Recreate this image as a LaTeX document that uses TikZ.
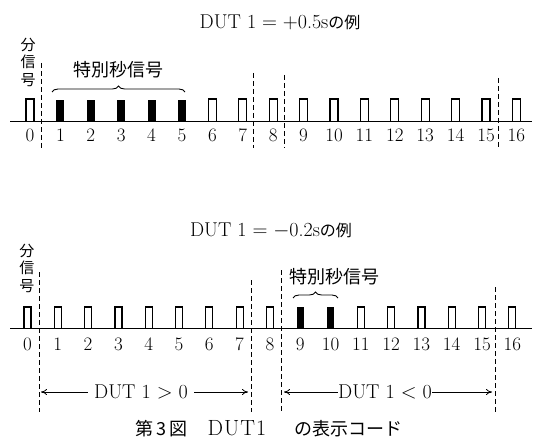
\documentclass[tikz,border=0pt]{standalone}
\usepackage{fontspec}
\newfontfamily\jp{Noto Sans CJK JP}
\usetikzlibrary{calc, arrows.meta, decorations.pathreplacing}

\tikzset{
  baseline line/.style={line width=1pt},
  pulse/.style={line width=1.2pt},
  sep/.style={line width=0.8pt, dash pattern=on 5pt off 3pt},
  num/.style={inner sep=0pt, font=\fontsize{19}{19}\selectfont},
  heading/.style={inner sep=0pt, font=\fontsize{20}{20}\selectfont},
  jlabel/.style={inner sep=0pt, font=\jp\fontsize{18}{18}\selectfont},
  vlabel/.style={inner sep=0pt, align=center, font=\jp\fontsize{15}{17.5}\selectfont},
  brc/.style={decorate, decoration={brace, amplitude=6pt}, line width=0.9pt},
  rng/.style={-{To[length=6pt, width=6pt]}, line width=0.8pt},
}

\begin{document}
\begin{tikzpicture}[x=1pt, y=-1pt]
\useasboundingbox (0,0) rectangle (536,441);

\node[heading] (title1) at (280,22) {DUT 1 $=+$0.5s{\jp\fontsize{16}{16}\selectfont の例}};
\draw[baseline line] (10,122) -- (532,122);
\foreach \i in {0,...,16} {
  \coordinate (A\i) at ({30+30.4*\i},122);
  \node[num] (a\i) at ($(A\i)+(0,13)$) {\i};
}
\foreach \i in {0,6,7,...,16}
  \draw[pulse] ($(A\i)+(-4,0)$) -- ++(0,-23) -- ++(8,0) -- ++(0,23);
\foreach \i in {1,...,5}
  \fill ($(A\i)+(-4,0)$) rectangle ++(8,-22);
\node[vlabel] (min1) at (28,62) {分\\信\\号};
\node[jlabel] (spec1) at (118,70) {特別秒信号};
\draw[brc] (52,92) -- (185,92);
\foreach \x/\t [count=\k] in {41/63, 253/73, 284/75, 498/78}
  \draw[sep] (\x,\t) coordinate (S\k) -- (\x,148) coordinate (E\k);

\node[heading] (title2) at (271,231) {DUT 1 $=-$0.2s{\jp\fontsize{16}{16}\selectfont の例}};
\draw[baseline line] (10,328) -- (532,328);
\foreach \i in {0,...,16} {
  \coordinate (B\i) at ({27.5+30.3*\i},328);
  \node[num] (b\i) at ($(B\i)+(0,16)$) {\i};
}
\foreach \i in {0,...,8,11,12,...,16}
  \draw[pulse] ($(B\i)+(-3.5,0)$) -- ++(0,-21) -- ++(7,0) -- ++(0,21);
\foreach \i in {9,10}
  \fill ($(B\i)+(-3.5,0)$) rectangle ++(7,-21);
\node[vlabel] (min2) at (27,268) {分\\信\\号};
\node[jlabel] (spec2) at (334,277) {特別秒信号};
\draw[brc] (293,298) -- (338,298);
\foreach \x/\t [count=\k] in {39/272, 251/280, 281/270, 495/287}
  \draw[sep] (\x,\t) coordinate (P\k) -- (\x,412) coordinate (Q\k);

\coordinate (L1) at (41,392);
\coordinate (L2) at (248,392);
\coordinate (R1) at (284,392);
\coordinate (R2) at (492,392);
\node[heading] (pos) at (141,392) {DUT 1 $>$ 0};
\node[heading] (neg) at (385,392) {DUT 1 $<$ 0};
\draw[rng] ([xshift=-6pt]pos.west) -- (L1);
\draw[rng] ([xshift=6pt]pos.east) -- (L2);
\draw[rng] (neg.west) -- (R1);
\draw[rng] (neg.east) -- (R2);

\node[heading] (cap) at (269,429) {{\jp\fontsize{18}{18}\selectfont 第\,3\,図}\hspace{20pt}{\fontsize{22}{22}\selectfont D\kern1pt U\kern1pt T\kern1pt 1}\hspace{28pt}{\jp\fontsize{18}{18}\selectfont の表示コード}};
\end{tikzpicture}
\end{document}
